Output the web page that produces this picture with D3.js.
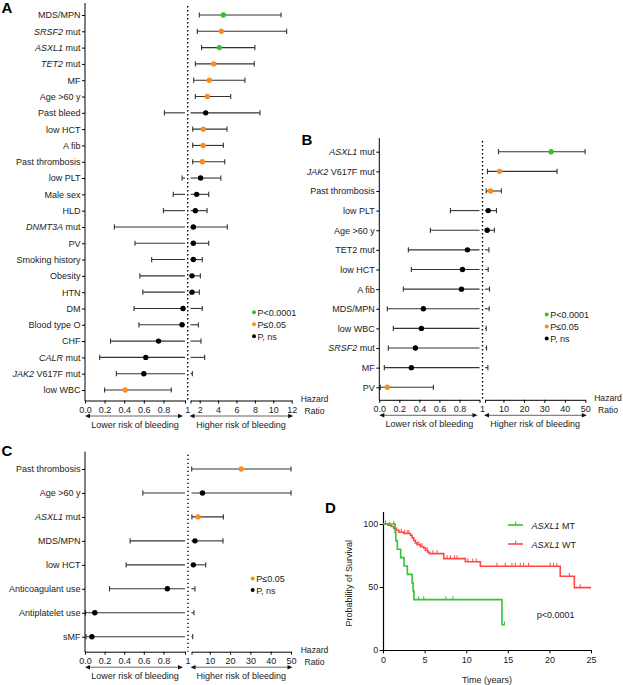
<!DOCTYPE html>
<html><head><meta charset="utf-8">
<script src="https://cdn.jsdelivr.net/npm/d3@7"></script>
<style>
body{margin:0;background:#fff}
svg{display:block}
</style>
</head><body>
<svg id="c" width="623" height="685"></svg>
<script>
// ---------------- DATA ----------------
// Panel A (bleeding, all patients)
const labelsA = ["MDS/MPN","*SRSF2* mut","*ASXL1* mut","*TET2* mut","MF","Age >60 y","Past bleed","low HCT","A fib","Past thrombosis","low PLT","Male sex","HLD","*DNMT3A* mut","PV","Smoking history","Obesity","HTN","DM","Blood type O","CHF","*CALR* mut","*JAK2* V617F mut","low WBC"];
const hrA   = [4.57,4.35,4.13,3.52,3.04,2.83,2.65,2.39,2.37,2.28,2.10,1.67,1.53,1.31,1.31,1.31,1.16,1.16,1.00,0.99,0.75,0.62,0.60,0.41];
const lowA  = [1.96,1.74,2.20,1.53,1.35,1.53,0.81,1.24,1.24,1.24,0.99,0.90,0.80,0.30,0.51,0.68,0.56,0.59,0.50,0.55,0.26,0.15,0.32,0.20];
const highA = [10.84,11.45,8.00,7.93,6.92,5.37,8.55,4.97,4.57,4.72,4.30,2.98,2.80,5.00,2.98,2.28,2.07,1.96,2.28,1.85,2.14,2.54,1.20,0.88];
const sigA  = ["g","o","g","o","o","o","k","o","o","o","k","k","k","k","k","k","k","k","k","k","k","k","k","o"];
const ticksLeftA  = [0,0.2,0.4,0.6,0.8,1.02];
const ticksRightA = [1,2,4,6,8,10,12];

// Panel B
const labelsB = ["*ASXL1* mut","*JAK2* V617F mut","Past thrombosis","low PLT","Age >60 y","TET2 mut","low HCT","A fib","MDS/MPN","low WBC","*SRSF2* mut","MF","PV"];
const hrB   = [33.3,8.1,3.7,2.56,2.07,0.88,0.83,0.82,0.44,0.42,0.36,0.32,0.08];
const lowB  = [7.6,2.2,1.6,0.71,0.51,0.29,0.32,0.24,0.08,0.14,0.09,0.05,0.01];
const highB = [49.9,36.2,9.0,6.6,5.6,2.9,2.56,3.2,3.05,1.6,1.75,2.4,0.54];
const sigB  = ["g","o","o","k","k","k","k","k","k","k","k","k","o"];
const ticksLeftB  = [0,0.2,0.4,0.6,0.8,1];
const ticksRightB = [1,10,20,30,40,50];

// Panel C
const labelsC = ["Past thrombosis","Age >60 y","*ASXL1* mut","MDS/MPN","low HCT","Anticoagulant use","Antiplatelet use","sMF"];
const hrC   = [25.5,6.4,4.2,2.7,1.9,0.84,0.10,0.07];
const lowC  = [1.1,0.59,1.2,0.46,0.42,0.25,0.005,0.01];
const highC = [50,50,16.7,16.5,8.0,2.7,2.2,1.6];
const sigC  = ["o","k","o","k","k","k","k","k"];
const ticksLeftC  = [0,0.2,0.4,0.6,0.8,1.02];
const ticksRightC = [1,10,20,30,40,50];

const legendAB = [["g","P<0.0001"],["o","P\u22640.05"],["k","P, ns"]];
const legendC  = [["o","P\u22640.05"],["k","P, ns"]];

// Panel D (Kaplan-Meier)
const mtTime = [0,1.45,1.55,1.72,2.12,2.53,2.93,3.5,3.62,3.72,14.3,14.65];
const mtSurv = [100,93.3,86.7,80,73.3,66.7,60,53.3,46.7,40,20,20];
const mtCensor = [1.3,4.25,4.9,7.55,8.4,14.6];
const wtTime = [0,0.6,1.0,1.3,1.6,1.9,2.5,3.3,3.5,3.7,3.9,4.1,4.5,4.9,5.1,5.4,5.6,7.3,9.9,11.7,21.3,23.0,25.0];
const wtSurv = [100,99,98,96.5,95,93.5,92.5,91,89,87,85,83.5,82,81,79,77.5,76.5,72.5,70,66.5,58.5,49.5,49.5];
const wtCensor = [0.3,0.8,2.2,2.6,2.9,3.1,4.3,4.5,4.7,5.3,6.0,6.5,7.7,8.1,8.6,8.9,10.2,10.8,11.2,13.7,14.7,15.5,15.9,16.5,16.9,17.5,20.1,20.5,20.9,22.4,23.7];
const xTicksD = [0,5,10,15,20,25];
const yTicksD = [0,50,100];

// ---------------- DRAWING ----------------
const FONT = '"Liberation Sans", Arial, Helvetica, sans-serif';
const COL = {g:"#2ec52e", o:"#ff8c1a", k:"#000000"};
const svg = d3.select("#c").attr("font-family", FONT);

function richText(sel, str){
  sel.text(null);
  str.split(/(\*[^*]+\*)/).filter(s=>s.length).forEach(p=>{
    if (p[0]==="*") sel.append("tspan").attr("font-style","italic").text(p.slice(1,-1));
    else sel.append("tspan").text(p);
  });
}

function styleAxis(g){
  g.attr("font-family", FONT).attr("font-size", 9);
  g.selectAll("path.domain").attr("stroke","#000").attr("stroke-width",1);
  g.selectAll(".tick line").attr("stroke","#000").attr("stroke-width",1);
  g.selectAll(".tick text").attr("fill","#222");
}

function arrow(g, x0, x1, yy){
  g.append("line").attr("x1",x0+4).attr("x2",x1-4).attr("y1",yy).attr("y2",yy)
    .attr("stroke","#555").attr("stroke-width",0.9);
  g.append("path").attr("d",`M${x0},${yy}L${x0+5},${yy-2.2}L${x0+5},${yy+2.2}Z`).attr("fill","#111");
  g.append("path").attr("d",`M${x1},${yy}L${x1-5},${yy-2.2}L${x1-5},${yy+2.2}Z`).attr("fill","#111");
}

function forest(c){
  const g = svg.append("g");
  const n = c.labels.length;
  const y = d3.scalePoint().domain(d3.range(n)).range([c.rowTop, c.rowBottom]);
  const xl = d3.scaleLinear().domain(c.leftDomain).range(c.leftRange);
  const xr = d3.scaleLinear().domain(c.rightDomain).range(c.rightRange);
  const xp = v => v <= 1 ? xl(v) : xr(v);

  // dotted reference line at HR = 1
  g.append("line").attr("x1",c.dotX).attr("x2",c.dotX).attr("y1",c.axisTop+3).attr("y2",c.axisY)
    .attr("stroke","#000").attr("stroke-width",1.4).attr("stroke-dasharray","1.4,2.6");

  // error bars
  d3.range(n).forEach(i=>{
    const lo=c.low[i], hi=c.high[i], yy=y(i);
    const segs=[];
    if (lo < 1) segs.push([xl(lo), hi<=1 ? xl(hi) : c.leftRange[1]]);
    if (hi > 1) segs.push([lo>1 ? xr(lo) : c.rightRange[0], xr(hi)]);
    segs.forEach(s=>g.append("line").attr("x1",s[0]).attr("x2",s[1]).attr("y1",yy).attr("y2",yy)
      .attr("stroke","#333").attr("stroke-width",1.1));
    [xp(lo), xp(hi)].forEach(xx=>g.append("line").attr("x1",xx).attr("x2",xx)
      .attr("y1",yy-2.6).attr("y2",yy+2.6).attr("stroke","#333").attr("stroke-width",1.1));
  });
  g.selectAll("circle.pt").data(d3.range(n)).join("circle").attr("class","pt")
    .attr("cx",i=>xp(c.hr[i])).attr("cy",i=>y(i)).attr("r",2.7)
    .attr("fill",i=>COL[c.sig[i]]);

  // y axis
  const ya = g.append("g").attr("transform",`translate(${c.leftRange[0]},0)`)
    .call(d3.axisLeft(y).tickSize(3).tickPadding(1.5).tickFormat(i=>c.labels[i]));
  ya.select("path.domain").remove();
  styleAxis(ya);
  ya.selectAll(".tick text").each(function(i){ richText(d3.select(this), c.labels[i]); });
  g.append("line").attr("x1",c.leftRange[0]).attr("x2",c.leftRange[0])
    .attr("y1",c.axisTop).attr("y2",c.axisY+0.5).attr("stroke","#000").attr("stroke-width",1);

  // x axes (broken)
  const fmtL = d3.format(".1f");
  const xa1 = g.append("g").attr("transform",`translate(0,${c.axisY})`)
    .call(d3.axisBottom(xl).tickValues(c.leftTicks).tickSize(3).tickPadding(3).tickSizeOuter(0)
      .tickFormat(v=> v>=1 ? "" : fmtL(v)));
  styleAxis(xa1);
  const xa2 = g.append("g").attr("transform",`translate(0,${c.axisY})`)
    .call(d3.axisBottom(xr).tickValues(c.rightTicks).tickSize(3).tickPadding(3).tickSizeOuter(0)
      .tickFormat(v=> v===1 ? "" : String(v)));
  styleAxis(xa2);
  g.append("text").attr("x",c.dotX).attr("y",c.axisY+12.5).attr("text-anchor","middle")
    .attr("font-size",9).attr("fill","#222").text("1");

  // Hazard Ratio
  g.append("text").attr("x",c.hrX).attr("y",c.axisY+1).attr("text-anchor","middle")
    .attr("font-size",8.6).attr("fill","#222").text("Hazard");
  g.append("text").attr("x",c.hrX).attr("y",c.axisY+13).attr("text-anchor","middle")
    .attr("font-size",8.6).attr("fill","#222").text("Ratio");

  // arrows + captions
  const ay = c.axisY + 15.5;
  arrow(g, c.leftRange[0], c.leftRange[1]-2, ay);
  arrow(g, c.rightRange[0]-1, c.rightRange[1]+1.5, ay);
  g.append("text").attr("x",(c.leftRange[0]+c.leftRange[1])/2).attr("y",c.axisY+27)
    .attr("text-anchor","middle").attr("font-size",9).attr("fill","#222").text("Lower risk of bleeding");
  g.append("text").attr("x",(c.rightRange[0]+c.rightRange[1])/2).attr("y",c.axisY+27)
    .attr("text-anchor","middle").attr("font-size",9).attr("fill","#222").text("Higher risk of bleeding");

  // legend
  c.legend.forEach((d,k)=>{
    const ly = c.legY + k*c.legStep;
    g.append("circle").attr("cx",c.legX).attr("cy",ly-0.5).attr("r",2).attr("fill",COL[d[0]]);
    g.append("text").attr("x",c.legX+3.5).attr("y",ly+3.2).attr("font-size",9).attr("fill","#222").text(d[1]);
  });

  // panel letter
  g.append("text").attr("x",c.letterX).attr("y",c.letterY).attr("font-size",15)
    .attr("font-weight","bold").text(c.letter);
}

forest({labels:labelsA, hr:hrA, low:lowA, high:highA, sig:sigA,
  rowTop:15, rowBottom:390, axisTop:3, axisY:400.5,
  leftDomain:[0,1.02], leftRange:[85,185], rightDomain:[1,12], rightRange:[190.5,291.7],
  leftTicks:ticksLeftA, rightTicks:ticksRightA, dotX:187.7, hrX:314.5,
  legend:legendAB, legX:254, legY:312.7, legStep:12,
  letter:"A", letterX:1.5, letterY:12.7});

forest({labels:labelsB, hr:hrB, low:lowB, high:highB, sig:sigB,
  rowTop:151.7, rowBottom:387.3, axisTop:138, axisY:399.8,
  leftDomain:[0,1], leftRange:[379.3,479.5], rightDomain:[1,50], rightRange:[485,585.3],
  leftTicks:ticksLeftB, rightTicks:ticksRightB, dotX:482.5, hrX:608,
  legend:legendAB, legX:546.7, legY:315, legStep:12,
  letter:"B", letterX:301.5, letterY:145});

forest({labels:labelsC, hr:hrC, low:lowC, high:highC, sig:sigC,
  rowTop:469, rowBottom:636.7, axisTop:451.7, axisY:651.7,
  leftDomain:[0,1.02], leftRange:[85,185], rightDomain:[1,50], rightRange:[191.5,291],
  leftTicks:ticksLeftC, rightTicks:ticksRightC, dotX:188, hrX:314.5,
  legend:legendC, legX:252.7, legY:579, legStep:11.5,
  letter:"C", letterX:1.5, letterY:455.5});

// ---------------- PANEL D ----------------
(function(){
  const g = svg.append("g");
  const x = d3.scaleLinear().domain([0,25]).range([383,591]);
  const y = d3.scaleLinear().domain([0,110]).range([650,511.4]);
  const xa = g.append("g").attr("transform","translate(0,650)")
    .call(d3.axisBottom(x).tickValues(xTicksD).tickSize(3.3).tickPadding(3).tickSizeOuter(0));
  styleAxis(xa);
  xa.selectAll("path.domain").attr("stroke-width",1.2);
  const ya = g.append("g").attr("transform","translate(383,0)")
    .call(d3.axisLeft(y).tickValues(yTicksD).tickSize(3.3).tickPadding(1.5).tickSizeOuter(0));
  styleAxis(ya);
  ya.selectAll("path.domain").attr("stroke-width",1.2);

  g.append("text").attr("x",487).attr("y",682.5).attr("text-anchor","middle").attr("font-size",9)
    .attr("fill","#222").text("Time (years)");
  g.append("text").attr("transform","translate(351.5,583.3) rotate(-90)").attr("text-anchor","middle")
    .attr("font-size",9).attr("fill","#222").text("Probability of Survival");

  const line = d3.line().x(d=>x(d[0])).y(d=>y(d[1])).curve(d3.curveStepAfter);
  const surv = (T,S,t)=>{ let v=S[0]; for(let i=0;i<T.length;i++){ if(T[i]<=t) v=S[i]; } return v; };
  const series = [
    {T:wtTime, S:wtSurv, C:wtCensor, col:"#ff4646"},
    {T:mtTime, S:mtSurv, C:mtCensor, col:"#33c433"}
  ];
  series.forEach(s=>{
    g.append("path").attr("d", line(s.T.map((t,i)=>[t,s.S[i]])))
      .attr("fill","none").attr("stroke",s.col).attr("stroke-width",1.6);
    s.C.forEach(t=>{
      const yy = y(surv(s.T,s.S,t));
      g.append("line").attr("x1",x(t)).attr("x2",x(t)).attr("y1",yy).attr("y2",yy-3.4)
        .attr("stroke",s.col).attr("stroke-width",1);
    });
  });

  // legend
  [["#33c433","MT",525],["#ff4646","WT",544]].forEach(d=>{
    g.append("line").attr("x1",508).attr("x2",523).attr("y1",d[2]).attr("y2",d[2])
      .attr("stroke",d[0]).attr("stroke-width",1.6);
    g.append("line").attr("x1",515.7).attr("x2",515.7).attr("y1",d[2]).attr("y2",d[2]-3.4)
      .attr("stroke",d[0]).attr("stroke-width",1);
    const t = g.append("text").attr("x",531.5).attr("y",d[2]+3.5).attr("font-size",9).attr("fill","#222");
    richText(t, "*ASXL1* "+d[1]);
  });
  g.append("text").attr("x",536.7).attr("y",618).attr("font-size",9).attr("fill","#222").text("p<0.0001");
  g.append("text").attr("x",325).attr("y",513.3).attr("font-size",15).attr("font-weight","bold").text("D");
})();
</script>
</body></html>
